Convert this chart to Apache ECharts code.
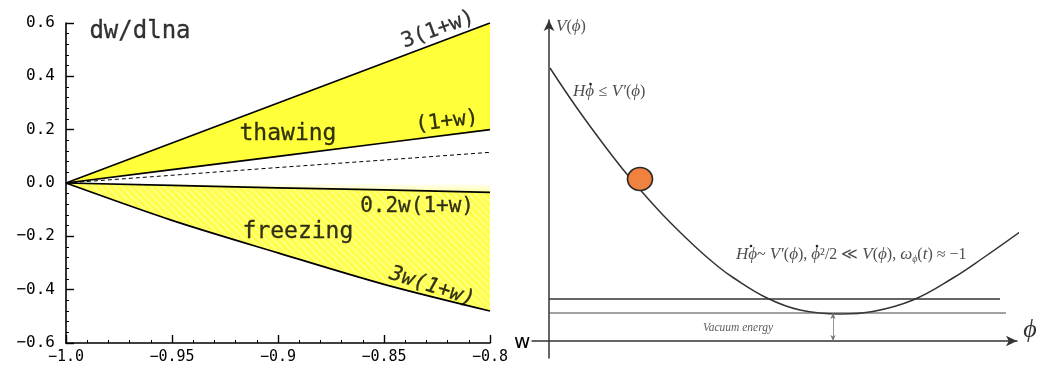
<!DOCTYPE html>
<html>
<head>
<meta charset="utf-8">
<script src="https://cdn.jsdelivr.net/npm/echarts@6/dist/echarts.min.js"></script>
<style>
  html, body { margin: 0; padding: 0; background: #fff; }
  #main { width: 1053px; height: 371px; }
</style>
</head>
<body>
<div id="main"></div>
<script>
// left panel: dw/dlna against w
const wVals = [-1.0, -0.95, -0.9, -0.85, -0.8];
const thawUpper = [0, 0.15, 0.30, 0.45, 0.60];      // 3(1+w)
const thawLower = [0, 0.05, 0.10, 0.15, 0.20];      // (1+w)
const dashedVals = [0, 0.029, 0.058, 0.086, 0.115];
const freezeUpper = [0, -0.009, -0.018, -0.026, -0.035]; // 0.2w(1+w)
const freezeLower = [0, -0.140, -0.262, -0.38, -0.48];   // 3w(1+w)
const yTicks = [-0.6, -0.4, -0.2, 0.0, 0.2, 0.4, 0.6];
const xTicks = [-1.0, -0.95, -0.9, -0.85, -0.8];

// right panel: potential V(phi)
const phiVals = [0.1, 2.9, 6.3, 8.4, 11.3, 14.6, 16.9, 18.4, 21.8, 25.1, 29.1, 32.4, 36.4, 40.4, 43.4, 47.5];
const potVals = [27.3, 23.15, 18.55, 15.95, 12.7, 9.45, 7.45, 6.35, 4.3, 3.1, 2.7, 2.95, 4.1, 6.3, 8.3, 11.2];
const upperLevel = { phi: [0, 45.1], v: 4.2 };
const vacuumLevel = { phi: [0, 45.7], v: 2.8 };
const ball = [9.1, 16.2];
const phiDots = [[4.15, 25.7], [20.2, 9.5], [26.8, 9.5]]; // time-derivative dots over phi

const pair = (xs, ys) => xs.map((x, i) => [x, ys[i]]);
const minus = v => String(v).replace('-', '\u2212');
const mono = 'DejaVu Sans Mono';
const serif = 'Liberation Serif';

const chart = echarts.init(document.getElementById('main'));

function note(text, at, size, extra, grid) {
  return {
    type: 'scatter',
    xAxisIndex: grid, yAxisIndex: grid,
    silent: true, clip: false,
    symbolSize: 0,
    data: [at],
    z: 10,
    label: Object.assign({
      show: true, position: 'inside', formatter: text,
      color: '#000', fontSize: size, fontFamily: grid === 0 ? mono : serif
    }, grid === 0 ? { textBorderColor: '#000', textBorderWidth: 0.3 } : {}, extra || {})
  };
}

function band(values, fill, extra) {
  return Object.assign({
    type: 'line', data: pair(wVals, values), showSymbol: false, silent: true,
    lineStyle: { width: 0 },
    areaStyle: { color: fill, opacity: 1, origin: 0 }
  }, extra || {});
}

function edge(values, style, extra) {
  return Object.assign({
    type: 'line', data: pair(wVals, values), showSymbol: false, silent: true, z: 5,
    lineStyle: Object.assign({ color: '#000', width: 1.7 }, style)
  }, extra || {});
}

const rich = {
  i: { fontFamily: serif, fontStyle: 'italic', fontSize: 17, color: '#222' },
  n: { fontFamily: serif, fontSize: 16, color: '#222' },
  s: { fontFamily: serif, fontStyle: 'italic', fontSize: 10, color: '#222', padding: [9, 0, 0, 0] }
};
const leftAnchored = { position: 'right', distance: 0, rich: rich };

const option = {
  animation: false,
  backgroundColor: '#fff',
  grid: [
    { left: 66, top: 23, width: 424, height: 320 },
    { left: 532, top: 20, width: 485, height: 338 }
  ],
  xAxis: [
    {
      gridIndex: 0, type: 'value', min: -1, max: -0.8, interval: 0.05,
      name: 'w', nameLocation: 'end', nameGap: 24,
      nameTextStyle: { fontFamily: 'DejaVu Sans', fontSize: 20, color: '#000', padding: [8, 0, 0, 0] },
      axisLine: { onZero: false, lineStyle: { color: '#000', width: 1.6 } },
      axisTick: { inside: true, length: 8, lineStyle: { color: '#000', width: 1.4 } },
      minorTick: { show: true, splitNumber: 5, length: 3, lineStyle: { color: '#000' } },
      splitLine: { show: false },
      axisLabel: {
        margin: 7, color: '#000', fontFamily: mono, fontSize: 15,
        formatter: v => { const t = xTicks.find(x => Math.abs(x - v) < 1e-9); return t === -1 ? '\u22121.0' : minus(t); }
      }
    },
    {
      gridIndex: 1, type: 'value', min: -1.7, max: 46.8,
      axisLine: { onZero: true, symbol: ['none', 'arrow'], symbolSize: [8, 11], lineStyle: { color: '#333', width: 1.5 } },
      axisTick: { show: false }, axisLabel: { show: false }, splitLine: { show: false }
    }
  ],
  yAxis: [
    {
      gridIndex: 0, type: 'value', min: -0.6, max: 0.6, interval: 0.2,
      axisLine: { show: true, onZero: false, lineStyle: { color: '#000', width: 1.6 } },
      axisTick: { inside: true, length: 8, lineStyle: { color: '#000', width: 1.4 } },
      minorTick: { show: true, splitNumber: 5, length: 3, lineStyle: { color: '#000' } },
      splitLine: { show: false },
      axisLabel: {
        margin: 11, color: '#000', fontFamily: mono, fontSize: 16,
        formatter: v => { const t = yTicks.find(y => Math.abs(y - v) < 1e-9); return minus(t.toFixed(1)); }
      }
    },
    {
      gridIndex: 1, type: 'value', min: -1.7, max: 32.1,
      axisLine: { onZero: true, symbol: ['none', 'arrow'], symbolSize: [8, 11], lineStyle: { color: '#333', width: 1.5 } },
      axisTick: { show: false }, axisLabel: { show: false }, splitLine: { show: false }
    }
  ],
  series: [
    // thawing: yellow down to zero, then white under (1+w)
    band(thawUpper, '#ffff3a'),
    band(thawLower, '#ffffff'),
    // freezing: hatched yellow, glow between zero and 0.2w(1+w)
    band(freezeLower, '#ffff4a', {
      itemStyle: {
        decal: {
          symbol: 'rect', symbolSize: 1, dashArrayX: [[1, 0]], dashArrayY: [2, 3],
          rotation: Math.PI / 4, color: 'rgba(255,255,255,0.3)'
        }
      }
    }),
    band(freezeUpper, new echarts.graphic.LinearGradient(0, 0, 0, 1, [
      { offset: 0, color: '#ffffff' },
      { offset: 1, color: '#ffffa8' }
    ])),
    // boundary curves
    edge(thawUpper, {}),
    edge(thawLower, {}),
    edge(dashedVals, { width: 1, type: [4, 3] }),
    edge(freezeUpper, {}),
    edge(freezeLower, {}, { smooth: 0.3 }),

    note('dw/dlna', [-0.9651, 0.567], 24, null, 0),
    note('thawing', [-0.8953, 0.182], 23, null, 0),
    note('freezing', [-0.8906, -0.183], 23, null, 0),
    note('3(1+w)', [-0.8245, 0.575], 21, { rotate: 20 }, 0),
    note('(1+w)', [-0.8203, 0.23], 21, { rotate: 7 }, 0),
    note('0.2w(1+w)', [-0.8344, -0.089], 21, null, 0),
    note('3w(1+w)', [-0.8274, -0.389], 21, { rotate: -18, fontStyle: 'italic' }, 0),

    // right panel
    {
      type: 'line', xAxisIndex: 1, yAxisIndex: 1, data: pair(phiVals, potVals), clip: false,
      showSymbol: false, smooth: 0.4, lineStyle: { color: '#333', width: 1.5 }, silent: true
    },
    {
      type: 'line', xAxisIndex: 1, yAxisIndex: 1, data: upperLevel.phi.map(p => [p, upperLevel.v]),
      showSymbol: false, lineStyle: { color: '#333', width: 1.5 }, silent: true
    },
    {
      type: 'line', xAxisIndex: 1, yAxisIndex: 1, data: vacuumLevel.phi.map(p => [p, vacuumLevel.v]),
      showSymbol: false, lineStyle: { color: '#444', width: 1.2 }, silent: true,
      markLine: {
        silent: true, symbol: ['arrow', 'arrow'], symbolSize: [4, 6],
        label: { show: false },
        lineStyle: { color: '#777', width: 0.8, type: 'solid' },
        data: [[{ coord: [28.4, 0] }, { coord: [28.4, vacuumLevel.v] }]]
      }
    },
    {
      type: 'scatter', xAxisIndex: 1, yAxisIndex: 1, data: [ball], z: 6,
      symbol: 'circle', symbolSize: [25, 23], silent: true,
      itemStyle: { color: '#f0813f', borderColor: '#2a2a2a', borderWidth: 1.6, opacity: 1 }
    },
    {
      type: 'scatter', xAxisIndex: 1, yAxisIndex: 1, data: phiDots, z: 11,
      symbol: 'circle', symbolSize: 2.6, silent: true,
      itemStyle: { color: '#222', opacity: 1 }
    },
    note('{i|V}{n|(}{i|ϕ}{n|)}', [0.7, 31.4], 18, leftAnchored, 1),
    note('{i|Hϕ} {n|≤} {i|V′}{n|(}{i|ϕ}{n|)}', [2.4, 24.9], 18, leftAnchored, 1),
    note('{i|Hϕ}{n|~ }{i|V′}{n|(}{i|ϕ}{n|), }{i|ϕ}{n|²/2 ≪ }{i|V}{n|(}{i|ϕ}{n|), }{i|ω}{s|ϕ}{n|(}{i|t}{n|) ≈ −1}',
      [18.7, 8.6], 16, leftAnchored, 1),
    note('Vacuum energy', [18.9, 1.3], 11.5, { fontStyle: 'italic', color: '#333' }, 1),
    note('ϕ', [48.1, 1.1], 26, { fontStyle: 'italic' }, 1)
  ]
};

chart.setOption(option);
</script>
</body>
</html>
